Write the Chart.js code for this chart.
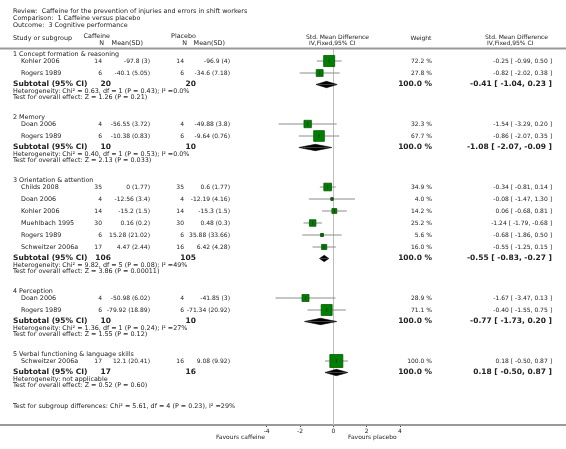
<!DOCTYPE html>
<html>
<head>
<meta charset="utf-8">
<script src="https://cdn.jsdelivr.net/npm/chart.js@4.4.0/dist/chart.umd.min.js"></script>
<style>
  html, body { margin: 0; padding: 0; background: #fff; }
</style>
</head>
<body>
<canvas id="forest" width="566" height="449"></canvas>
<script>
const groups = ['1 Concept formation & reasoning', '2 Memory', '3 Orientation & attention', '4 Perception', '5 Verbal functioning & language skills'];
const groupOf = [0, 0, 1, 1, 2, 2, 2, 2, 2, 2, 3, 3, 4];
const studies = ['Kohler 2006', 'Rogers 1989', 'Doan 2006', 'Rogers 1989', 'Childs 2008', 'Doan 2006', 'Kohler 2006', 'Muehlbach 1995', 'Rogers 1989', 'Schweitzer 2006a', 'Doan 2006', 'Rogers 1989', 'Schweitzer 2006a'];
const caffN = [14, 6, 4, 6, 35, 4, 14, 30, 6, 17, 4, 6, 17];
const caffMean = [-97.8, -40.1, -56.55, -10.38, 0, -12.56, -15.2, 0.16, 15.28, 4.47, -50.98, -79.92, 12.1];
const caffSD = [3, 5.05, 3.72, 0.83, 1.77, 3.4, 1.5, 0.2, 21.02, 2.44, 6.02, 18.89, 20.41];
const placN = [14, 6, 4, 6, 35, 4, 14, 30, 6, 16, 4, 6, 16];
const placMean = [-96.9, -34.6, -49.88, -9.64, 0.6, -12.19, -15.3, 0.48, 35.88, 6.42, -41.85, -71.34, 9.08];
const placSD = [4, 7.18, 3.8, 0.76, 1.77, 4.16, 1.5, 0.3, 33.66, 4.28, 3, 20.92, 9.92];
const smd = [-0.25, -0.82, -1.54, -0.86, -0.34, -0.08, 0.06, -1.24, -0.68, -0.55, -1.67, -0.40, 0.18];
const smdLo = [-0.99, -2.02, -3.29, -2.07, -0.81, -1.47, -0.68, -1.79, -1.86, -1.25, -3.47, -1.55, -0.50];
const smdHi = [0.50, 0.38, 0.20, 0.35, 0.14, 1.30, 0.81, -0.68, 0.50, 0.15, 0.13, 0.75, 0.87];
const weight = [72.2, 27.8, 32.3, 67.7, 34.9, 4.0, 14.2, 25.2, 5.6, 16.0, 28.9, 71.1, 100.0];

const subCaffN = [20, 10, 106, 10, 17];
const subPlacN = [20, 10, 105, 10, 16];
const subSmd = [-0.41, -1.08, -0.55, -0.77, 0.18];
const subLo = [-1.04, -2.07, -0.83, -1.73, -0.50];
const subHi = [0.23, -0.09, -0.27, 0.20, 0.87];
const hetText = [
  'Heterogeneity: Chi\u00b2 = 0.63, df = 1 (P = 0.43); I\u00b2 =0.0%',
  'Heterogeneity: Chi\u00b2 = 0.40, df = 1 (P = 0.53); I\u00b2 =0.0%',
  'Heterogeneity: Chi\u00b2 = 9.82, df = 5 (P = 0.08); I\u00b2 =49%',
  'Heterogeneity: Chi\u00b2 = 1.36, df = 1 (P = 0.24); I\u00b2 =27%',
  'Heterogeneity: not applicable'
];
const overallText = [
  'Test for overall effect: Z = 1.26 (P = 0.21)',
  'Test for overall effect: Z = 2.13 (P = 0.033)',
  'Test for overall effect: Z = 3.86 (P = 0.00011)',
  'Test for overall effect: Z = 1.55 (P = 0.12)',
  'Test for overall effect: Z = 0.52 (P = 0.60)'
];
const subgroupDiff = 'Test for subgroup differences: Chi\u00b2 = 5.61, df = 4 (P = 0.23), I\u00b2 =29%';
const axisTicks = [-4, -2, 0, 2, 4];
const titleLines = ['Review:  Caffeine for the prevention of injuries and errors in shift workers', 'Comparison:  1 Caffeine versus placebo', 'Outcome:  3 Cognitive performance'];

// ---- layout ----
const W = 566, H = 449;
const AXIS_Y = 425;
const HEAD_LINE_Y = 48.5;
const FONT = '"DejaVu Sans", Verdana, sans-serif';
const LABEL = '6.4px ' + FONT, NUM = '6px ' + FONT, BOLD = 'bold 7.5px ' + FONT;

const labelY = [], rowY = [], subY = [];
let cursor = 54;
groups.forEach((g, gi) => {
  labelY.push(cursor);
  let k = 0;
  studies.forEach((s, i) => {
    if (groupOf[i] === gi) { rowY[i] = cursor + 7 + 12 * k; k++; }
  });
  subY.push(cursor + 7 + 12 * (k - 1) + 11.5);
  cursor += 39 + 12 * k;
});
const diffY = subY[subY.length - 1] + 34;

const fmt2 = v => v.toFixed(2);
const ciText = (e, l, h) => fmt2(e) + ' [ ' + fmt2(l) + ', ' + fmt2(h) + ' ]';

// ---- datasets ----
const datasets = [];
studies.forEach((s, i) => {
  datasets.push({
    type: 'line',
    data: [{ x: smdLo[i], y: rowY[i] }, { x: smdHi[i], y: rowY[i] }],
    borderColor: '#8c8c8c', borderWidth: 1, pointRadius: 0, order: 3
  });
});
datasets.push({
  type: 'scatter',
  data: studies.map((s, i) => ({ x: smd[i], y: rowY[i] })),
  pointStyle: 'rect',
  pointRadius: weight.map(w => 13 * Math.sqrt(w / 100) / 1.414),
  backgroundColor: '#008000', borderColor: '#005c00', borderWidth: 0.8, order: 2
});
datasets.push({
  type: 'scatter',
  data: studies.map((s, i) => ({ x: smd[i], y: rowY[i] })),
  pointStyle: 'line', rotation: 90, pointRadius: 2,
  borderColor: '#333', borderWidth: 1, order: 1
});
subSmd.forEach((e, j) => {
  [-3.2, 3.2].forEach(h => {
    datasets.push({
      type: 'line',
      data: [{ x: subLo[j], y: subY[j] }, { x: e, y: subY[j] + h }, { x: subHi[j], y: subY[j] }],
      borderColor: '#000', borderWidth: 0.6, backgroundColor: '#000',
      fill: { value: subY[j] }, pointRadius: 0, tension: 0, order: 1
    });
  });
});

// ---- text and rules ----
const decor = {
  id: 'decor',
  beforeDatasetsDraw(chart) {
    const ctx = chart.ctx, x0 = chart.scales.x.getPixelForValue(0);
    ctx.save();
    ctx.strokeStyle = '#bdbdbd'; ctx.lineWidth = 1;
    ctx.beginPath(); ctx.moveTo(Math.round(x0) + 0.5, HEAD_LINE_Y); ctx.lineTo(Math.round(x0) + 0.5, AXIS_Y); ctx.stroke();
    ctx.strokeStyle = '#999'; ctx.lineWidth = 2;
    ctx.beginPath(); ctx.moveTo(0, HEAD_LINE_Y); ctx.lineTo(W, HEAD_LINE_Y); ctx.stroke();
    ctx.restore();
  },
  afterDraw(chart) {
    const ctx = chart.ctx;
    ctx.save();
    ctx.fillStyle = '#222';
    ctx.textBaseline = 'middle';
    const t = (s, x, y, align, font) => {
      ctx.font = font || LABEL;
      ctx.textAlign = align || 'left';
      ctx.fillText(s, x, y);
    };
    titleLines.forEach((s, i) => t(s, 13, 11.5 + 7 * i));
    t('Study or subgroup', 13, 38);
    t('Caffeine', 110, 36.5, 'right');
    t('N', 104, 43.5, 'right');
    t('Mean(SD)', 143, 43.5, 'right');
    t('Placebo', 196, 36.5, 'right');
    t('N', 187, 43.5, 'right');
    t('Mean(SD)', 225, 43.5, 'right');
    t('Std. Mean Difference', 306, 37, 'left', NUM);
    t('IV,Fixed,95% CI', 309, 43.5, 'left', NUM);
    t('Weight', 421, 38, 'center', NUM);
    t('Std. Mean Difference', 485, 37, 'left', NUM);
    t('IV,Fixed,95% CI', 487, 43.5, 'left', NUM);

    groups.forEach((g, j) => t(g, 13, labelY[j]));
    studies.forEach((s, i) => {
      const y = rowY[i];
      t(s, 21, y);
      t(String(caffN[i]), 102, y, 'right', NUM);
      t(caffMean[i] + ' (' + caffSD[i] + ')', 150, y, 'right', NUM);
      t(String(placN[i]), 184, y, 'right', NUM);
      t(placMean[i] + ' (' + placSD[i] + ')', 230, y, 'right', NUM);
      t(weight[i].toFixed(1) + ' %', 432, y, 'right', NUM);
      t(ciText(smd[i], smdLo[i], smdHi[i]), 552, y, 'right', NUM);
    });
    subSmd.forEach((e, j) => {
      const y = subY[j];
      t('Subtotal (95% CI)', 13, y, 'left', BOLD);
      t(String(subCaffN[j]), 111, y, 'right', BOLD);
      t(String(subPlacN[j]), 196, y, 'right', BOLD);
      t('100.0 %', 432, y, 'right', BOLD);
      t(ciText(e, subLo[j], subHi[j]), 552, y, 'right', BOLD);
      t(hetText[j], 13, y + 6.5);
      t(overallText[j], 13, y + 13);
    });
    t(subgroupDiff, 13, diffY);
    t('Favours caffeine', 265, 437, 'right', NUM);
    t('Favours placebo', 348, 437, 'left', NUM);
    ctx.restore();
  }
};

new Chart(document.getElementById('forest'), {
  type: 'scatter',
  data: { datasets },
  options: {
    responsive: false,
    animation: false,
    events: [],
    layout: { padding: 0, autoPadding: false },
    plugins: { legend: { display: false }, tooltip: { enabled: false } },
    scales: {
      x: {
        type: 'linear', position: 'bottom',
        min: -20, max: (W / 16.667) - 20,
        afterBuildTicks: s => { s.ticks = axisTicks.map(v => ({ value: v })); },
        afterFit: s => { s.height = H - AXIS_Y; },
        grid: { drawOnChartArea: false, drawTicks: true, tickLength: 2, color: '#444' },
        border: { display: true, color: '#9a9a9a', width: 2 },
        ticks: { font: { family: FONT, size: 6 }, color: '#222', padding: 1, autoSkip: false, maxRotation: 0 }
      },
      y: { type: 'linear', display: false, reverse: true, min: 0, max: AXIS_Y }
    }
  },
  plugins: [decor]
});
</script>
</body>
</html>
